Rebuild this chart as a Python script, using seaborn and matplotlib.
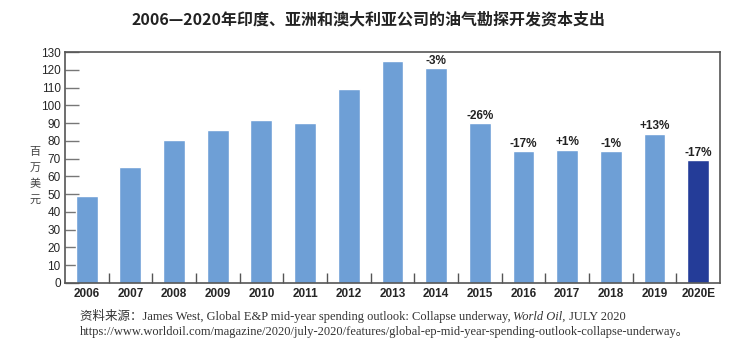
import matplotlib
matplotlib.use('Agg')
import matplotlib.pyplot as plt
import numpy as np
import pandas as pd
import seaborn as sns

years = ['2006', '2007', '2008', '2009', '2010', '2011', '2012', '2013',
         '2014', '2015', '2016', '2017', '2018', '2019', '2020E']
spend = [49, 65, 80.5, 86, 92, 90, 109, 125, 121, 90, 74, 75, 74, 84, 69]
changes = ['', '', '', '', '', '', '', '', '-3%', '-26%', '-17%', '+1%', '-1%', '+13%', '-17%']

light_blue = '#6e9fd6'
dark_blue = '#243c98'
colors = [light_blue] * 14 + [dark_blue]

df = pd.DataFrame({'year': years, 'spend': spend})

sns.set_style('white')
plt.rcParams['font.family'] = ['Liberation Sans', 'DejaVu Sans']

fig = plt.figure(figsize=(7.37, 3.59), dpi=100)
ax = fig.add_axes([0.088, 0.212, 0.889, 0.643])

sns.barplot(data=df, x='year', y='spend', hue='year', palette=colors,
            legend=False, width=0.5, saturation=1, ax=ax)

# percent change labels above the bars
for cont, lab in zip(ax.containers, changes):
    ax.bar_label(cont, labels=[lab], padding=1, fontsize=8.5, fontweight='bold',
                 color='#222222')

ax.set_xlim(-0.5, 14.5)
ax.set_ylim(0, 130)
ax.set_yticks(np.arange(0, 131, 10))
ax.set_xticks(np.arange(0.5, 14, 1), minor=True)
ax.tick_params(axis='y', direction='in', length=10, width=1, color='#777777',
               labelsize=8.5, pad=3, left=True)
ax.tick_params(axis='x', which='major', length=0, labelsize=8.5, pad=4)
ax.tick_params(axis='x', which='minor', direction='in', length=7, width=1,
               color='#555555', bottom=True)
for lab in ax.get_xticklabels():
    lab.set_fontweight('bold')
for s in ax.spines.values():
    s.set_color('#555555')
    s.set_linewidth(1.2)
ax.set_xlabel('')
ax.set_ylabel('')

fig.text(0.5, 0.945, '2006—2020年印度、亚洲和澳大利亚公司的油气勘探开发资本支出',
         ha='center', va='center', fontsize=11.5, fontweight='bold',
         family=['Noto Sans CJK SC', 'DejaVu Sans'], color='#222222')

fig.text(0.048, 0.51, '百\n万\n美\n元', ha='center', va='center', fontsize=8,
         linespacing=1.75, family=['Noto Sans CJK SC', 'DejaVu Sans'], color='#444444')

src_font = ['Liberation Serif', 'Noto Sans CJK SC']
t1 = fig.text(0.108, 0.108, '资料来源：James West, Global E&P mid-year spending outlook: Collapse underway, ',
              fontsize=9, family=src_font, color='#333333')
t2 = ax.annotate('World Oil,', xy=(1, 0), xycoords=t1, va='bottom', fontsize=9,
                 family=src_font, style='italic', color='#333333')
ax.annotate(' JULY 2020', xy=(1, 0), xycoords=t2, va='bottom', fontsize=9,
            family=src_font, color='#333333')
fig.text(0.108, 0.066,
         'https://www.worldoil.com/magazine/2020/july-2020/features/global-ep-mid-year-spending-outlook-collapse-underway。',
         fontsize=9, family=src_font, color='#333333')

fig.savefig('out.png', dpi=100)
